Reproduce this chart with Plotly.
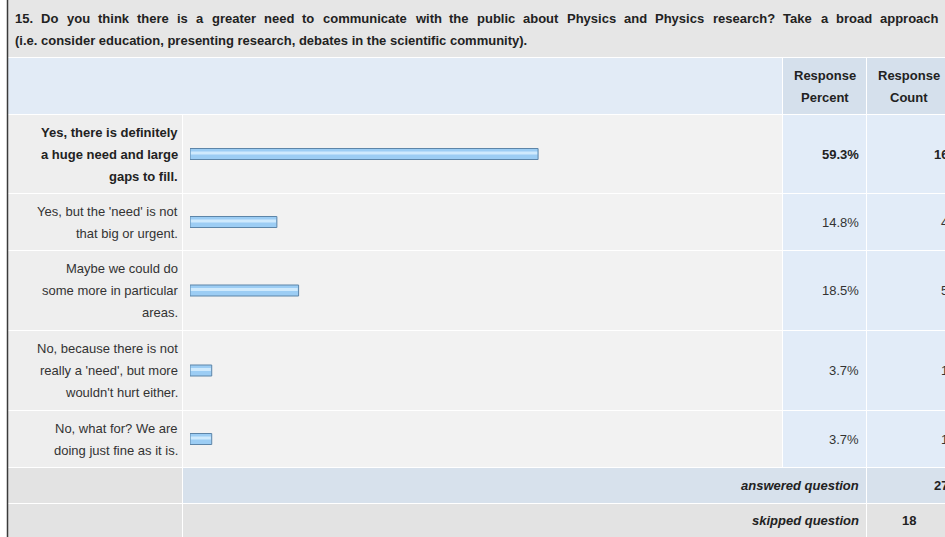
import plotly.graph_objects as go

# ---------------- data ----------------
question = ["15. Do you think there is a greater need to communicate with the public about Physics and Physics research? Take a broad approach",
            "(i.e. consider education, presenting research, debates in the scientific community)."]
answers = [
    "Yes, there is definitely<br>a huge need and large<br>gaps to fill.",
    "Yes, but the 'need' is not<br>that big or urgent.",
    "Maybe we could do<br>some more in particular<br>areas.",
    "No, because there is not<br>really a 'need', but more<br>wouldn't hurt either.",
    "No, what for? We are<br>doing just fine as it is.",
]
response_percent = [59.3, 14.8, 18.5, 3.7, 3.7]
response_count = [16, 4, 5, 1, 1]
answered_question = 27
skipped_question = 18
header_labels = [["Response", "Percent"], ["Response", "Count"]]

# ---------------- layout geometry (pixels) ----------------
W, H = 945, 537
X_BORDER = 7
X_LABEL_END = 183
X_BAR0, X_BAR100 = 190, 777
X_PCT0, X_CNT0, X_CNT1 = 783, 867, 951
title_rows = (0, 57)
header_rows = (58, 114)
row_bounds = [(115, 193), (194, 250), (251, 330), (331, 410), (411, 467)]
answered_rows = (468, 503)
skipped_rows = (504, 540)
LINE_H = 22
PAD = 3  # annotation inner padding (px)
TITLE_X0, TITLE_X1 = 16, 940  # first title line is justified between these

TXT = "#333333"
DARK = "#222222"
FONT = "Liberation Sans, Arial, sans-serif"

# Arial Bold advance widths (1/1000 em) used to justify the first title line
BOLD_W = {" ": 278, "'": 238, "(": 333, ")": 333, ",": 278, ".": 278, "?": 611, "-": 333}
BOLD_W.update({d: 556 for d in "0123456789"})
BOLD_W.update(dict(zip("ABCDEFGHIJKLMNOPQRSTUVWXYZ",
                       [722, 722, 722, 722, 667, 611, 778, 722, 278, 556, 722, 611, 833,
                        722, 778, 667, 778, 722, 667, 611, 722, 667, 944, 667, 667, 611])))
BOLD_W.update(dict(zip("abcdefghijklmnopqrstuvwxyz",
                       [556, 611, 556, 611, 556, 333, 611, 611, 278, 278, 556, 278, 889,
                        611, 611, 611, 611, 389, 556, 333, 611, 556, 778, 556, 556, 500])))


def bold_width(s, size=13):
    return sum(BOLD_W.get(ch, 556) for ch in s) * size / 1000.0


def px(x):
    return x / W


shapes = []


def cell(x0, x1, y0, y1, color):
    shapes.append(dict(type="rect", xref="paper", yref="y", x0=px(x0), x1=px(x1),
                       y0=y0, y1=y1, fillcolor=color, line=dict(width=0), layer="below"))


# title
cell(X_BORDER + 1, W + 10, title_rows[0], title_rows[1], "#e6e6e6")
# header
cell(X_BORDER + 1, X_PCT0 - 1, header_rows[0], header_rows[1], "#e2ebf6")
cell(X_PCT0, X_CNT0 - 1, header_rows[0], header_rows[1], "#d5e0ec")
cell(X_CNT0, W + 10, header_rows[0], header_rows[1], "#d5e0ec")
# answer rows
for (y0, y1) in row_bounds:
    cell(X_BORDER + 1, X_LABEL_END - 1, y0, y1, "#eeeeee")
    cell(X_LABEL_END, X_PCT0 - 1, y0, y1, "#f2f2f2")
    cell(X_PCT0, X_CNT0 - 1, y0, y1, "#e2ecf8")
    cell(X_CNT0, W + 10, y0, y1, "#e2ecf8")
# answered
cell(X_BORDER + 1, X_LABEL_END - 1, answered_rows[0], answered_rows[1], "#e3e3e3")
cell(X_LABEL_END, X_CNT0 - 1, answered_rows[0], answered_rows[1], "#d7e1ec")
cell(X_CNT0, W + 10, answered_rows[0], answered_rows[1], "#d7e1ec")
# skipped
cell(X_BORDER + 1, X_LABEL_END - 1, skipped_rows[0], skipped_rows[1], "#e3e3e3")
cell(X_LABEL_END, X_CNT0 - 1, skipped_rows[0], skipped_rows[1], "#e3e3e3")
cell(X_CNT0, W + 10, skipped_rows[0], skipped_rows[1], "#e3e3e3")
# left border
shapes.append(dict(type="line", xref="paper", yref="y", x0=px(X_BORDER + 0.5), x1=px(X_BORDER + 0.5),
                   y0=0, y1=H, line=dict(color="#3a3a3a", width=1.5), layer="above"))

annotations = []


def text(x, y, s, anchor="right", bold=False, italic=False, size=13, color=TXT):
    """x is the visible edge of the text (left edge, right edge or centre)."""
    if anchor == "right":
        x = x + PAD
    elif anchor == "left":
        x = x - PAD
    if bold:
        s = "<b>" + s + "</b>"
    if italic:
        s = "<i>" + s + "</i>"
    annotations.append(dict(xref="paper", yref="y", x=px(x), y=y, text=s, showarrow=False,
                            xanchor=anchor, yanchor="middle",
                            font=dict(family=FONT, size=size, color=color)))


# title text: first line justified word by word, second line natural
words = question[0].split(" ")
ww = [bold_width(w) for w in words]
gap = (TITLE_X1 - TITLE_X0 - sum(ww)) / (len(words) - 1)
xw = TITLE_X0
for w, wdt in zip(words, ww):
    text(xw, 18, w, anchor="left", bold=True, color=DARK)
    xw += wdt + gap
text(TITLE_X0, 40, question[1], anchor="left", bold=True, color=DARK)

# headers
hc = (header_rows[0] + header_rows[1]) / 2
for cx, lines in zip([(X_PCT0 + X_CNT0) / 2, (X_CNT0 + X_CNT1) / 2], header_labels):
    text(cx, hc - LINE_H / 2, lines[0], anchor="center", bold=True, color=DARK)
    text(cx, hc + LINE_H / 2, lines[1], anchor="center", bold=True, color=DARK)

centers = [(a + b) / 2 for a, b in row_bounds]
for i, (lab, c) in enumerate(zip(answers, centers)):
    lines = lab.split("<br>")
    n = len(lines)
    col = DARK if i == 0 else TXT
    for j, ln in enumerate(lines):
        text(X_LABEL_END - 6, c + (j - (n - 1) / 2) * LINE_H, ln, bold=(i == 0), color=col)
    text(X_CNT0 - 9, c, f"{response_percent[i]:.1f}%", bold=(i == 0), color=col)
    text(X_CNT1 - 4, c, str(response_count[i]), bold=(i == 0), color=col)

ac = (answered_rows[0] + answered_rows[1]) / 2
sc = (skipped_rows[0] + H) / 2
text(X_CNT0 - 9, ac, "answered question", bold=True, italic=True, color=DARK)
text(X_CNT1 - 4, ac, str(answered_question), bold=True, color=DARK)
text(X_CNT0 - 9, sc, "skipped question", bold=True, italic=True, color=DARK)
text((X_CNT0 + X_CNT1) / 2, sc, str(skipped_question), anchor="center", bold=True, color=DARK)

fig = go.Figure()
fig.add_trace(go.Bar(x=response_percent, y=centers, orientation="h", width=11,
                     marker=dict(color="#9ccdf4", line=dict(color="#5d85a8", width=1)),
                     hoverinfo="skip"))
fig.add_trace(go.Bar(x=[v - 0.3 for v in response_percent], y=[c - 1 for c in centers], orientation="h",
                     width=3, base=0.15,
                     marker=dict(color="#cfeafd", line=dict(width=0)), hoverinfo="skip"))

fig.update_layout(
    width=W, height=H,
    margin=dict(l=0, r=0, t=0, b=0),
    paper_bgcolor="white", plot_bgcolor="rgba(0,0,0,0)",
    barmode="overlay", showlegend=False,
    xaxis=dict(domain=[px(X_BAR0), px(X_BAR100)], range=[0, 100], visible=False, fixedrange=True),
    yaxis=dict(domain=[0, 1], range=[H, 0], visible=False, fixedrange=True),
    shapes=shapes, annotations=annotations,
)

fig.write_html("out.html", config={"displayModeBar": False},
               post_script="document.body.style.margin='0';document.body.style.overflow='hidden';")
